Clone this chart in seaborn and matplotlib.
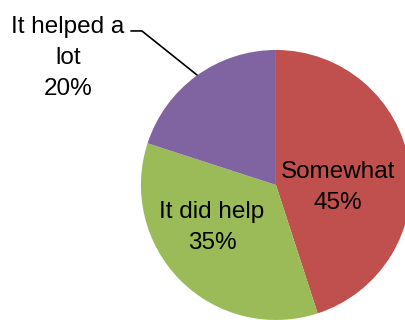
import matplotlib
matplotlib.use("Agg")
import matplotlib.pyplot as plt
import seaborn as sns

categories = ["Somewhat", "It did help", "It helped a lot"]
values = [45, 35, 20]
label_texts = ["Somewhat\n45%", "It did help\n35%", "It helped a\nlot\n20%"]
colors = ["#C0504D", "#9BBB59", "#8064A2"]

sns.set_style("white")
plt.rcParams["font.family"] = ["Liberation Sans", "DejaVu Sans"]

fig = plt.figure(figsize=(4.05, 3.2), dpi=100)
ax = fig.add_axes([0, 0, 1, 1])
ax.pie(values, colors=colors, startangle=90, counterclock=False,
       radius=1.0, wedgeprops=dict(linewidth=0))
ax.set_xlim(-2.044, 0.956)
ax.set_ylim(-1.0, 1.370)
ax.set_aspect("equal")
ax.axis("off")

fs = 17.5
ls = 1.55
ax.text(0.459, -0.019, label_texts[0], ha="center", va="center",
        fontsize=fs, linespacing=ls, color="black")
ax.text(-0.474, -0.315, label_texts[1], ha="center", va="center",
        fontsize=fs, linespacing=ls, color="black")
ax.text(-1.54, 0.94, label_texts[2], ha="center", va="center",
        fontsize=fs, linespacing=ls, color="black")
ax.plot([-1.074, -0.993, -0.585], [1.141, 1.141, 0.815], color="black", lw=1.2)

fig.savefig("out.png", dpi=100)
